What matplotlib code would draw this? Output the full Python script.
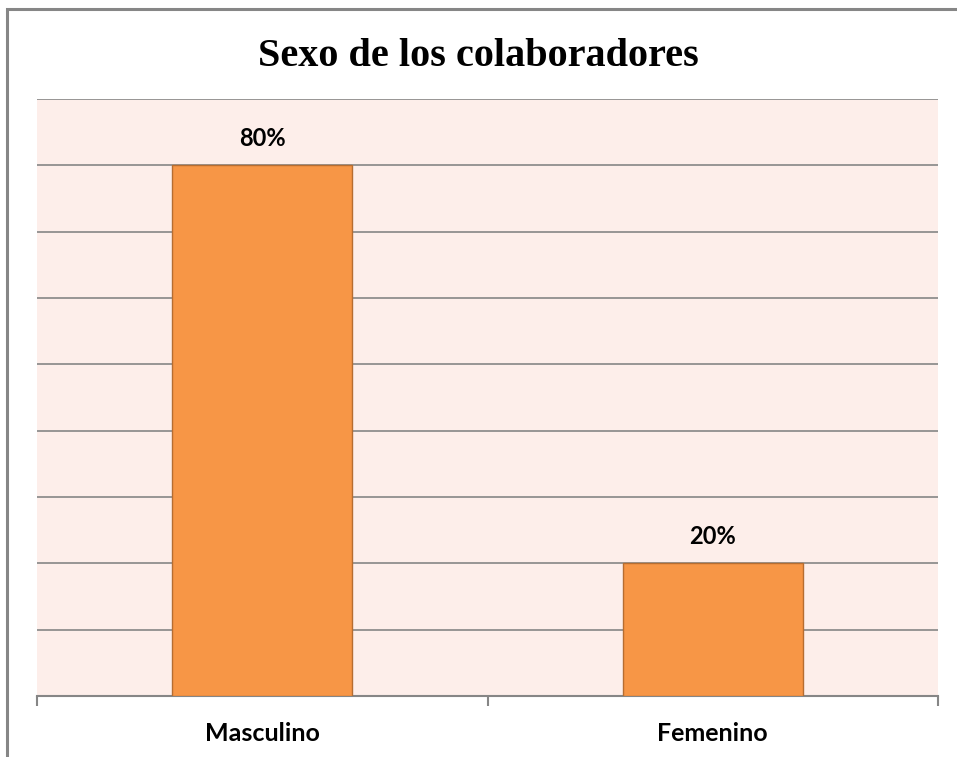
import matplotlib.pyplot as plt
import matplotlib.patches as mpatches

categorias = ['Masculino', 'Femenino']
valores = [0.80, 0.20]
etiquetas = ['80%', '20%']

fig = plt.figure(figsize=(9.57, 7.57), dpi=100)
W, H = 957, 757

# marco exterior del grafico
fig.patches.append(mpatches.Rectangle((7.5 / W, -0.1), 1.2, (H - 8.5) / H + 0.1,
                                      transform=fig.transFigure, fill=False,
                                      edgecolor='#868686', linewidth=2.2))

ax = fig.add_axes([37 / W, (H - 696) / H, (938 - 37) / W, (696 - 99) / H])
ax.set_facecolor('#FDEEEA')

x = range(len(categorias))
ax.bar(x, valores, width=0.4, color='#F79646', edgecolor='#B66D31', linewidth=1, zorder=3)
for xi, v, t in zip(x, valores, etiquetas):
    ax.text(xi, v + 0.04, t, ha='center', va='center', fontsize=17,
            fontweight='bold', family='Lato')

ax.set_xlim(-0.5, 1.5)
ax.set_ylim(0, 0.9)
ax.set_yticks([i / 10 for i in range(10)])
ax.yaxis.grid(True, color='#868686', linewidth=1.2, zorder=0)
ax.tick_params(axis='y', left=False, labelleft=False)
for s in ['left', 'right', 'top']:
    ax.spines[s].set_visible(False)
ax.spines['bottom'].set_color('#868686')
ax.spines['bottom'].set_linewidth(1.5)

ax.set_xticks([-0.5, 0.5, 1.5], minor=False)
ax.set_xticklabels(['', '', ''])
ax.tick_params(axis='x', length=7, width=1.5, color='#868686', direction='out')
ax.set_xticks(list(x), minor=True)
ax.set_xticklabels(categorias, minor=True, fontsize=18, fontweight='bold', family='Lato')
ax.tick_params(axis='x', which='minor', length=0, pad=19)

fig.text(0.5, (H - 57) / H, 'Sexo de los colaboradores', ha='center', va='center',
         fontsize=29, fontweight='bold', family='Liberation Serif')

fig.savefig('out.png', dpi=100)
